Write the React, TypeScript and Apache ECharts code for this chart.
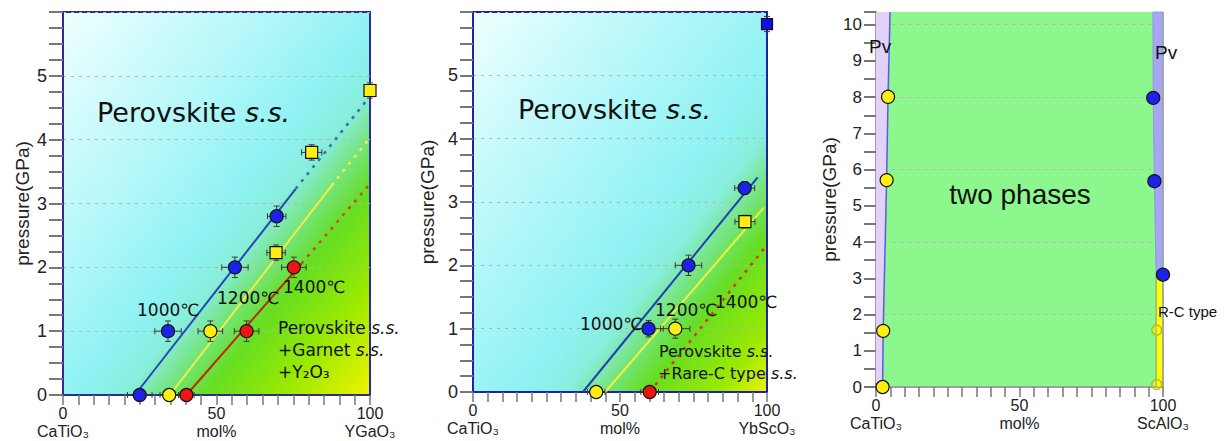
import React, { useEffect, useRef } from 'react';
import * as echarts from 'echarts';

// ---------- Panel 1 : CaTiO3 – YGaO3 ----------
const p1Names = ['CaTiO₃', 'mol%', 'YGaO₃'];
const p1Blue = [[25, 0], [34.2, 1], [56, 2], [69.6, 2.8]];
const p1BlueErr = [[4, 0], [4.3, 0.16], [4.3, 0.16], [3, 0.16]];
const p1YellowCircle = [[34.6, 0], [48, 1]];
const p1YellowCircleErr = [[3, 0], [4, 0.16]];
const p1YellowSquare = [[69.4, 2.23], [81, 3.8], [100, 4.77]];
const p1YellowSquareErr = [[3, 0.12], [3.3, 0.12], [0, 0.12]];
const p1Red = [[40.2, 0], [59.8, 1], [75.2, 2]];
const p1RedErr = [[2.5, 0], [4, 0.16], [4, 0.16]];
const p1BlueSolid = [[23.4, 0], [75.8, 3.23]];
const p1BlueDotted = [[75.8, 3.23], [99.5, 4.65]];
const p1YellowSolid = [[34.8, 0], [87.5, 3.28]];
const p1YellowDotted = [[87.5, 3.28], [99.5, 4.0]];
const p1RedSolid = [[40.2, 0], [77.7, 2.06]];
const p1RedDotted = [[77.7, 2.06], [99.5, 3.28]];

// ---------- Panel 2 : CaTiO3 – YbScO3 ----------
const p2Names = ['CaTiO₃', 'mol%', 'YbScO₃'];
const p2BlueCircle = [[59.7, 1], [73.3, 2], [92.4, 3.22]];
const p2BlueCircleErr = [[5, 0.13], [4.5, 0.16], [3.4, 0.1]];
const p2BlueSquare = [[100, 5.81]];
const p2BlueSquareErr = [[0, 0.12]];
const p2YellowCircle = [[41.9, 0], [68.8, 1]];
const p2YellowCircleErr = [[3, 0], [5, 0.15]];
const p2YellowSquare = [[92.5, 2.69]];
const p2YellowSquareErr = [[3.4, 0.1]];
const p2Red = [[60.1, 0]];
const p2RedErr = [[3, 0]];
const p2BlueLine = [[37.4, 0], [96.8, 3.39]];
const p2YellowLine = [[45, 0], [98.9, 2.91]];
const p2RedDotted = [[60.1, 0], [98.9, 2.26]];

// ---------- Panel 3 : CaTiO3 – ScAlO3 ----------
const p3Names = ['CaTiO₃', 'mol%', 'ScAlO₃'];
const p3YellowCircle = [[2.3, 0], [2.5, 1.55], [3.7, 5.71], [4.2, 8.01]];
const p3BlueCircle = [[96.6, 7.98], [97, 5.68], [100, 3.1]];
const p3CMarks = [[97.8, 1.57], [97.8, 0.07]];
const p3PvLeft = [[0, 0], [2.3, 0], [2.5, 1.55], [3.7, 5.71], [4.2, 8.01], [4.9, 10.35], [0, 10.35]];
const p3PvLeftEdge = [[2.3, 0], [2.5, 1.55], [3.7, 5.71], [4.2, 8.01], [4.9, 10.35]];
const p3PvRight = [[96.5, 10.35], [96.6, 7.98], [97, 5.68], [97.6, 3.1], [100, 3.1], [100, 10.35]];
const p3RCType = [[97.6, 0], [100, 0], [100, 3.1], [97.6, 3.1]];
const p3RightEdge = [[100, 0], [100, 10.35]];

const yMax = [6, 6, 10.35];

const SANS = "'Liberation Sans', Arial, sans-serif";
const NARROW = "'Liberation Sans Narrow', 'Arial Narrow', 'Liberation Sans', sans-serif";
const DEJA = "'DejaVu Sans', 'Noto Sans CJK JP', sans-serif";

const withErr = (pts: number[][], errs: number[][]) =>
  pts.map((p, i) => [p[0], p[1], errs[i][0], errs[i][1]]);

function errorSeries(idx: number, pts: number[][], errs: number[][]) {
  return {
    type: 'custom', xAxisIndex: idx, yAxisIndex: idx, z: 4, clip: false, silent: true,
    data: withErr(pts, errs), encode: { x: 0, y: 1 },
    renderItem: (_p: any, api: any) => {
      const x = api.value(0), y = api.value(1), ex = api.value(2), ey = api.value(3);
      const st = { stroke: '#3a3a3a', lineWidth: 1 };
      const cap = 3;
      const ch: any[] = [];
      if (ex > 0) {
        const a = api.coord([x - ex, y]), b = api.coord([x + ex, y]);
        ch.push({ type: 'line', shape: { x1: a[0], y1: a[1], x2: b[0], y2: b[1] }, style: st });
        ch.push({ type: 'line', shape: { x1: a[0], y1: a[1] - cap, x2: a[0], y2: a[1] + cap }, style: st });
        ch.push({ type: 'line', shape: { x1: b[0], y1: b[1] - cap, x2: b[0], y2: b[1] + cap }, style: st });
      }
      if (ey > 0) {
        const a = api.coord([x, y + ey]), b = api.coord([x, y - ey]);
        ch.push({ type: 'line', shape: { x1: a[0], y1: a[1], x2: b[0], y2: b[1] }, style: st });
        ch.push({ type: 'line', shape: { x1: a[0] - cap, y1: a[1], x2: a[0] + cap, y2: a[1] }, style: st });
        ch.push({ type: 'line', shape: { x1: b[0] - cap, y1: b[1], x2: b[0] + cap, y2: b[1] }, style: st });
      }
      return { type: 'group', children: ch };
    },
  };
}

function markerSeries(idx: number, pts: number[][], color: string, symbol: string, size: number, border = '#111', bw = 1.2) {
  return {
    type: 'scatter', xAxisIndex: idx, yAxisIndex: idx, data: pts, symbol, symbolSize: size,
    z: 6, clip: false, silent: true,
    itemStyle: { color, borderColor: border, borderWidth: bw, opacity: 1 },
  };
}

function lineSeries(idx: number, pts: number[][], color: string, width: number, type: any = 'solid') {
  return {
    type: 'line', xAxisIndex: idx, yAxisIndex: idx, data: pts, symbol: 'none', z: 3, silent: true,
    clip: false, lineStyle: { color, width, type },
  };
}

function polygonSeries(idx: number, pts: number[][], fill: string, stroke: string, lw: number) {
  return {
    type: 'custom', xAxisIndex: idx, yAxisIndex: idx, z: 1, silent: true, clip: false,
    data: pts, encode: { x: 0, y: 1 },
    renderItem: (params: any, api: any) =>
      params.dataIndex === 0
        ? { type: 'polygon', shape: { points: pts.map((p) => api.coord(p)) }, style: { fill, stroke, lineWidth: lw } }
        : null,
  };
}

function xAxisCfg(idx: number, names: string[], lineColor: string) {
  return {
    type: 'value', gridIndex: idx, min: 0, max: 100, interval: 5,
    axisLine: { show: true, onZero: false, lineStyle: { color: lineColor, width: 2 } },
    axisTick: { show: true, length: 10, lineStyle: { color: '#777', width: 1.5 } },
    axisLabel: {
      margin: 9, fontFamily: SANS, fontSize: 16, color: '#222', lineHeight: 18,
      formatter: (v: number) =>
        v === 0 ? `0\n${names[0]}` : v === 50 ? `50\n${names[1]}` : v === 100 ? `100\n${names[2]}` : '',
    },
    splitLine: { show: false },
  };
}

function yAxisCfg(idx: number, step: number, lineColor: string, gap: number, tickLen: number, labelMargin: number, fs: number) {
  const max = yMax[idx];
  const t = 'rgba(0,0,0,0)';
  return {
    type: 'value', gridIndex: idx, min: 0, max, interval: step,
    name: 'pressure(GPa)', nameLocation: 'middle', nameRotate: 90, nameGap: gap,
    nameTextStyle: { fontFamily: SANS, fontSize: 19, color: '#222' },
    axisLine: { show: true, onZero: false, lineStyle: { color: lineColor, width: 2 } },
    axisTick: { show: true, length: tickLen, lineStyle: { color: '#777', width: 2 } },
    axisLabel: {
      margin: labelMargin, fontFamily: NARROW, fontSize: fs, color: '#222',
      formatter: (v: number) => (Math.abs(v - Math.round(v)) < 1e-9 && v < max ? String(Math.round(v)) : ''),
    },
    splitLine: { show: true, lineStyle: { type: [3, 5], color: ['#b4b4b4', t, t, t], width: 1 } },
  };
}

function txt(x: number, y: number, text: string, fontSize: number, family: string, align = 'left', rich?: any) {
  return {
    type: 'text', x, y, z: 100, silent: true,
    style: { text, fontSize, fontFamily: family, fill: '#111', align, verticalAlign: 'middle', rich },
  };
}

function richSS(fontSize: number) {
  return {
    n: { fontSize, fontFamily: DEJA, color: '#111' },
    i: { fontSize, fontFamily: DEJA, fontStyle: 'italic', color: '#111' },
  };
}

export default function App() {
  const ref = useRef<HTMLDivElement>(null);
  useEffect(() => {
    if (!ref.current) return;
    const chart = echarts.init(ref.current, undefined, { renderer: 'svg' });
    const mkGrad = (shift: number) =>
      new echarts.graphic.LinearGradient(0, 0, 1, 1, [
        { offset: 0, color: '#effffe' },
        { offset: 0.3, color: '#baf8fa' },
        { offset: 0.52 + shift, color: '#8ff2f3' },
        { offset: 0.6 + shift, color: '#88eedc' },
        { offset: 0.665 + shift, color: '#74e47a' },
        { offset: 0.73 + shift, color: '#66de22' },
        { offset: Math.min(0.86 + shift, 0.95), color: '#9cea00' },
        { offset: 1, color: '#f0f400' },
      ]);

    const series: any[] = [
      // panel 3 regions
      polygonSeries(2, p3PvLeft, '#e2d2fa', 'rgba(0,0,0,0)', 0),
      polygonSeries(2, p3PvRight, '#a6a6f2', '#9494e8', 1),
      polygonSeries(2, p3RCType, '#ffff00', '#8c8c8c', 1),
      lineSeries(2, p3PvLeftEdge, '#5a5af0', 1.5),
      lineSeries(2, p3RightEdge, '#a0a0a0', 1.5),
      // panel 1 lines
      lineSeries(0, p1BlueSolid, '#2446bb', 2),
      lineSeries(0, p1BlueDotted, '#3468cc', 2.5, [3, 6]),
      lineSeries(0, p1YellowSolid, '#eeee48', 2),
      lineSeries(0, p1YellowDotted, '#f2f250', 2.5, [3, 6]),
      lineSeries(0, p1RedSolid, '#b82c00', 2),
      lineSeries(0, p1RedDotted, '#cc4a22', 2.5, [3, 6]),
      // panel 2 lines
      lineSeries(1, p2BlueLine, '#2040b0', 2),
      lineSeries(1, p2YellowLine, '#f0f040', 2),
      lineSeries(1, p2RedDotted, '#e03020', 2.5, [3, 6]),
      // error bars
      errorSeries(0, p1Blue, p1BlueErr),
      errorSeries(0, p1YellowCircle, p1YellowCircleErr),
      errorSeries(0, p1YellowSquare, p1YellowSquareErr),
      errorSeries(0, p1Red, p1RedErr),
      errorSeries(1, p2BlueCircle, p2BlueCircleErr),
      errorSeries(1, p2BlueSquare, p2BlueSquareErr),
      errorSeries(1, p2YellowCircle, p2YellowCircleErr),
      errorSeries(1, p2YellowSquare, p2YellowSquareErr),
      errorSeries(1, p2Red, p2RedErr),
      // markers
      markerSeries(0, p1Blue, '#1c22e6', 'circle', 13),
      markerSeries(0, p1YellowCircle, '#ffee10', 'circle', 13),
      markerSeries(0, p1YellowSquare, '#ffee10', 'rect', 12),
      markerSeries(0, p1Red, '#ee1414', 'circle', 13),
      markerSeries(1, p2BlueCircle, '#1c22e6', 'circle', 13),
      markerSeries(1, p2BlueSquare, '#1010e8', 'rect', 11),
      markerSeries(1, p2YellowCircle, '#ffee10', 'circle', 13),
      markerSeries(1, p2YellowSquare, '#ffee10', 'rect', 12),
      markerSeries(1, p2Red, '#ee1414', 'circle', 13),
      markerSeries(2, p3YellowCircle, '#ffee10', 'circle', 13),
      markerSeries(2, p3BlueCircle, '#1c22e6', 'circle', 13),
      markerSeries(2, p3CMarks, 'rgba(255,255,0,0.25)', 'circle', 10, '#c8b800', 1.5),
    ];

    const graphic: any[] = [
      // panel 1
      txt(97, 112, '{n|Perovskite }{i|s.s.}', 27, DEJA, 'left', richSS(27)),
      txt(137, 310, '1000℃', 17, DEJA),
      txt(217, 298, '1200℃', 17, DEJA),
      txt(283, 287, '1400℃', 17, DEJA),
      txt(278, 328, '{n|Perovskite }{i|s.s.}', 17, DEJA, 'left', richSS(17)),
      txt(278, 350, '{n|+Garnet }{i|s.s.}', 17, DEJA, 'left', richSS(17)),
      txt(278, 372, '+Y₂O₃', 17, DEJA),
      // panel 2
      txt(518, 109, '{n|Perovskite }{i|s.s.}', 27, DEJA, 'left', richSS(27)),
      txt(580, 324, '1000℃', 17, DEJA),
      txt(655, 310, '1200℃', 17, DEJA),
      txt(715, 302, '1400℃', 17, DEJA),
      txt(659, 351, '{n|Perovskite }{i|s.s.}', 16, DEJA, 'left', richSS(16)),
      txt(658, 373, '{n|+Rare-C type }{i|s.s.}', 16, DEJA, 'left', richSS(16)),
      // panel 3
      txt(869, 46, 'Pv', 19, SANS),
      txt(1155, 52, 'Pv', 19, SANS),
      txt(1020, 194, 'two phases', 28, SANS, 'center'),
      txt(1158, 311, 'R-C type', 15, SANS),
    ];

    chart.setOption({
      animation: false,
      textStyle: { fontFamily: SANS },
      grid: [
        { left: 63, top: 12, width: 307, height: 383, show: true, backgroundColor: mkGrad(0), borderColor: '#2b2b96', borderWidth: 2, outerBoundsMode: 'none' },
        { left: 473, top: 12, width: 294, height: 380, show: true, backgroundColor: mkGrad(0.06), borderColor: '#2020a8', borderWidth: 2, outerBoundsMode: 'none' },
        { left: 876, top: 12, width: 287, height: 375, show: true, backgroundColor: '#8cf78c', borderWidth: 0, borderColor: 'rgba(0,0,0,0)', outerBoundsMode: 'none' },
      ],
      xAxis: [
        xAxisCfg(0, p1Names, '#2b2b96'),
        xAxisCfg(1, p2Names, '#2020a8'),
        xAxisCfg(2, p3Names, '#a0a0a0'),
      ],
      yAxis: [
        yAxisCfg(0, 0.25, '#2b2b96', 31, 14, 16, 18),
        yAxisCfg(1, 0.25, '#2020a8', 36, 13, 15, 18),
        yAxisCfg(2, 0.5, '#a0a0a0', 33, 12, 14, 17),
      ],
      series,
      graphic,
    });
    return () => chart.dispose();
  }, []);
  return <div ref={ref} style={{ position: 'absolute', left: 0, top: 0, width: 1225, height: 441 }} />;
}
